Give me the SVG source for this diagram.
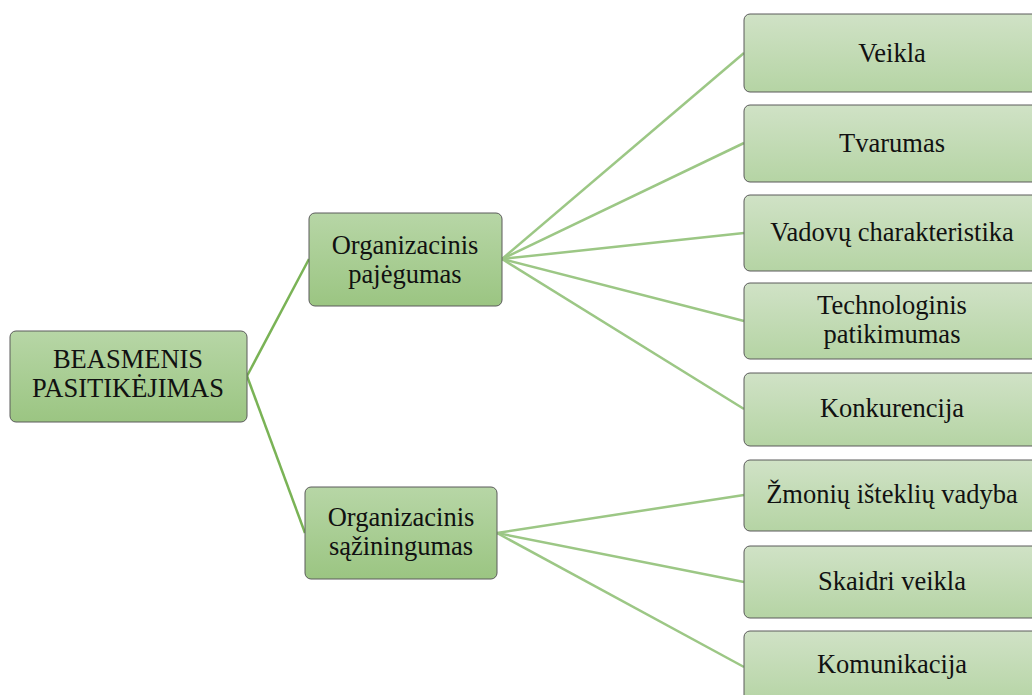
<svg xmlns="http://www.w3.org/2000/svg" width="1032" height="695" viewBox="0 0 1032 695">
<defs>
<linearGradient id="gMid" x1="0" y1="0" x2="0" y2="1">
<stop offset="0" stop-color="#b7d6a6"/>
<stop offset="1" stop-color="#9bc582"/>
</linearGradient>
<linearGradient id="gLeaf" x1="0" y1="0" x2="0" y2="1">
<stop offset="0" stop-color="#d0e2c6"/>
<stop offset="1" stop-color="#b5d4a4"/>
</linearGradient>
<style>
.mid{fill:url(#gMid);stroke:#5a5a5a;stroke-width:1}
.leaf{fill:url(#gLeaf);stroke:#5a5a5a;stroke-width:1}
.t{font-family:'Liberation Serif','Times New Roman',serif;font-size:26.5px;fill:#111;text-anchor:middle}
.c1{stroke:#7ab356;stroke-width:2.5;fill:none}
.c2{stroke:#9cc785;stroke-width:2.5;fill:none}
</style>
</defs>
<g id="connectors">
<line class="c1" x1="247" y1="376" x2="309" y2="259"/>
<line class="c1" x1="247" y1="376" x2="305" y2="533"/>
<line class="c2" x1="502" y1="259" x2="744" y2="53"/>
<line class="c2" x1="502" y1="259" x2="744" y2="143"/>
<line class="c2" x1="502" y1="259" x2="744" y2="233"/>
<line class="c2" x1="502" y1="259" x2="744" y2="321"/>
<line class="c2" x1="502" y1="259" x2="744" y2="409"/>
<line class="c2" x1="497" y1="533" x2="744" y2="495"/>
<line class="c2" x1="497" y1="533" x2="744" y2="582"/>
<line class="c2" x1="497" y1="533" x2="744" y2="667"/>
</g>
<g id="root">
<rect class="mid" x="10" y="331" width="237" height="91" rx="6"/>
<text class="t" x="128" y="368">BEASMENIS</text>
<text class="t" x="128" y="397">PASITIKĖJIMAS</text>
</g>
<g id="capacity">
<rect class="mid" x="309" y="213" width="193" height="93" rx="6"/>
<text class="t" x="405" y="254">Organizacinis</text>
<text class="t" x="405" y="283">pajėgumas</text>
</g>
<g id="integrity">
<rect class="mid" x="305" y="487" width="192" height="92" rx="6"/>
<text class="t" x="401" y="526">Organizacinis</text>
<text class="t" x="401" y="555">sąžiningumas</text>
</g>
<g id="leaf1">
<rect class="leaf" x="744" y="14" width="298" height="78" rx="6"/>
<text class="t" x="892" y="62">Veikla</text>
</g>
<g id="leaf2">
<rect class="leaf" x="744" y="105" width="298" height="77" rx="6"/>
<text class="t" x="892" y="152">Tvarumas</text>
</g>
<g id="leaf3">
<rect class="leaf" x="744" y="195" width="298" height="76" rx="6"/>
<text class="t" x="892" y="241">Vadovų charakteristika</text>
</g>
<g id="leaf4">
<rect class="leaf" x="744" y="283" width="298" height="76" rx="6"/>
<text class="t" x="892" y="314">Technologinis</text>
<text class="t" x="892" y="343">patikimumas</text>
</g>
<g id="leaf5">
<rect class="leaf" x="744" y="373" width="298" height="73" rx="6"/>
<text class="t" x="892" y="417">Konkurencija</text>
</g>
<g id="leaf6">
<rect class="leaf" x="744" y="460" width="298" height="71" rx="6"/>
<text class="t" x="892" y="503">Žmonių išteklių vadyba</text>
</g>
<g id="leaf7">
<rect class="leaf" x="744" y="546" width="298" height="72" rx="6"/>
<text class="t" x="892" y="590">Skaidri veikla</text>
</g>
<g id="leaf8">
<rect class="leaf" x="744" y="631" width="298" height="74" rx="6"/>
<text class="t" x="892" y="673">Komunikacija</text>
</g>
</svg>
